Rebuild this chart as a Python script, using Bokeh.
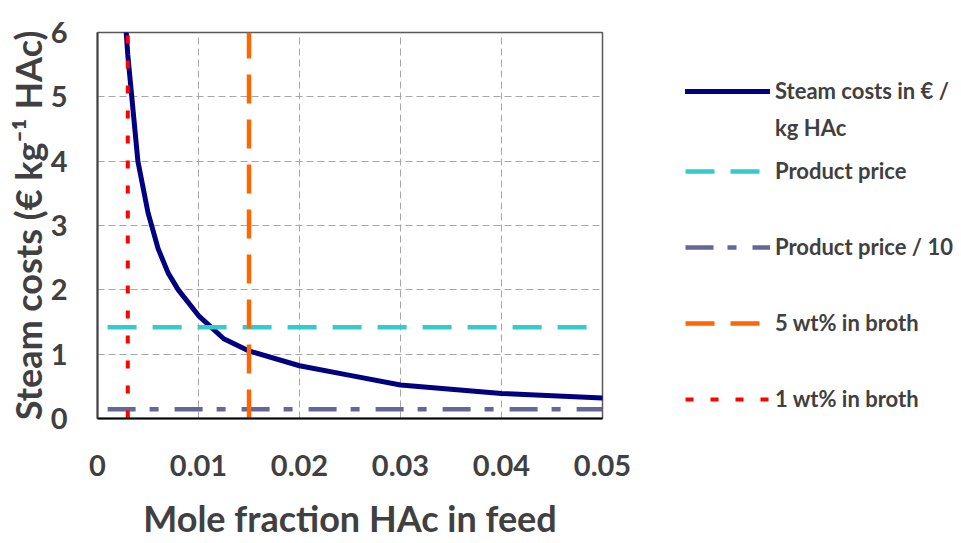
from bokeh.plotting import figure
from bokeh.layouts import row
from bokeh.models import (Legend, LegendItem, FixedTicker, NumeralTickFormatter,
                          Range1d, Title)
from bokeh.embed import file_html
from bokeh.resources import INLINE

# ---- data ----
mole_fraction = [0.0028, 0.003, 0.004, 0.005, 0.006, 0.007, 0.008, 0.010,
                 0.0125, 0.015, 0.020, 0.025, 0.030, 0.040, 0.050]
steam_costs = [6.1, 5.65, 4.0, 3.2, 2.64, 2.26, 2.0, 1.6,
               1.24, 1.05, 0.82, 0.67, 0.52, 0.39, 0.32]

product_price = 1.42
product_price_10 = 0.142
price_x = [0.001, 0.05]

wt5_x = 0.015
wt1_x = 0.003
vline_y = [0, 6]

x_ticks = [0, 0.01, 0.02, 0.03, 0.04, 0.05]
y_ticks = [0, 1, 2, 3, 4, 5, 6]

label_steam = ["Steam costs in € /", "kg HAc"]
labels_other = ["Product price", "Product price / 10",
                "5 wt% in broth", "1 wt% in broth"]

FONT = "Lato"
TXT = "#404040"

styles = [
    dict(line_color="#000080", line_width=5, line_cap="round"),
    dict(line_color="#33CCCC", line_width=4.5, line_dash="29 16"),
    dict(line_color="#666699", line_width=4.5, line_dash="28 14 9 16"),
    dict(line_color="#FF6600", line_width=4.5, line_dash="29 16"),
    dict(line_color="#FF0000", line_width=4, line_dash="8 17"),
]

p = figure(width=632, height=543, output_backend="svg", toolbar_location=None,
           x_range=Range1d(0, 0.05), y_range=Range1d(0, 6),
           min_border_left=97, min_border_right=30, min_border_top=32,
           min_border_bottom=125)

p.outline_line_color = "#595959"
p.outline_line_width = 1.5

p.line(mole_fraction, steam_costs, **styles[0])
p.line(price_x, [product_price] * 2, **styles[1])
p.line(price_x, [product_price_10] * 2, **styles[2])
p.line([wt5_x] * 2, vline_y, **styles[3])
p.line([wt1_x] * 2, vline_y, **styles[4])

# axes
for ax in (p.xaxis[0], p.yaxis[0]):
    ax.major_tick_line_color = None
    ax.minor_tick_line_color = None
    ax.major_label_text_font = FONT
    ax.major_label_text_font_style = "bold"
    ax.major_label_text_font_size = "29px"
    ax.major_label_text_color = TXT
    ax.axis_label_text_font = FONT
    ax.axis_label_text_font_style = "bold"
    ax.axis_label_text_font_size = "36px"
    ax.axis_label_text_color = TXT
    ax.axis_line_width = 2

p.xaxis.ticker = FixedTicker(ticks=x_ticks)
p.xaxis.formatter = NumeralTickFormatter(format="0.[00]")
p.yaxis.ticker = FixedTicker(ticks=y_ticks)
p.xaxis.axis_line_color = "#000000"
p.yaxis.axis_line_color = "#404040"
p.xaxis.major_label_standoff = 30
p.yaxis.major_label_standoff = 24
p.xaxis.axis_label = "Mole fraction HAc in feed"
p.xaxis.axis_label_standoff = 17

p.add_layout(Title(text="Steam costs (€ kg⁻¹ HAc)", align="center", offset=27,
                   standoff=-5, text_font=FONT, text_font_style="bold",
                   text_font_size="36px", text_color=TXT), "left")

for g in (p.xgrid[0], p.ygrid[0]):
    g.grid_line_color = "#A6A6A6"
    g.grid_line_dash = "7 4"
    g.grid_line_width = 1

# legend panel
p2 = figure(width=329, height=543, output_backend="svg", toolbar_location=None,
            x_range=Range1d(0, 1), y_range=Range1d(0, 1),
            min_border_left=0, min_border_right=0, min_border_top=32,
            min_border_bottom=125)
p2.axis.visible = False
p2.grid.visible = False
p2.outline_line_color = None
# sample renderers kept outside the visible range: only their legend glyphs show
leg_r = [p2.line([5, 6], [5, 6], **s) for s in styles]
blank = p2.line([5, 6], [5, 6], line_alpha=0)


def style_legend(lg, spacing):
    lg.border_line_color = None
    lg.background_fill_alpha = 0
    lg.padding = 0
    lg.margin = 0
    lg.glyph_width = 85
    lg.glyph_height = 24
    lg.label_height = 24
    lg.label_standoff = 5
    lg.spacing = spacing
    lg.label_text_font = FONT
    lg.label_text_font_style = "bold"
    lg.label_text_font_size = "22px"
    lg.label_text_color = TXT
    lg.label_text_baseline = "middle"


legA = Legend(items=[LegendItem(label=label_steam[0], renderers=[leg_r[0]]),
                     LegendItem(label=label_steam[1], renderers=[blank])],
              location=(53, 277))
style_legend(legA, 10)
legB = Legend(items=[LegendItem(label=lab, renderers=[r])
                     for lab, r in zip(labels_other, leg_r[1:])],
              location=(53, 6))
style_legend(legB, 49)
p2.add_layout(legA, "center")
p2.add_layout(legB, "center")

layout = row(p, p2)
open("out.html", "w").write(file_html(layout, INLINE))
